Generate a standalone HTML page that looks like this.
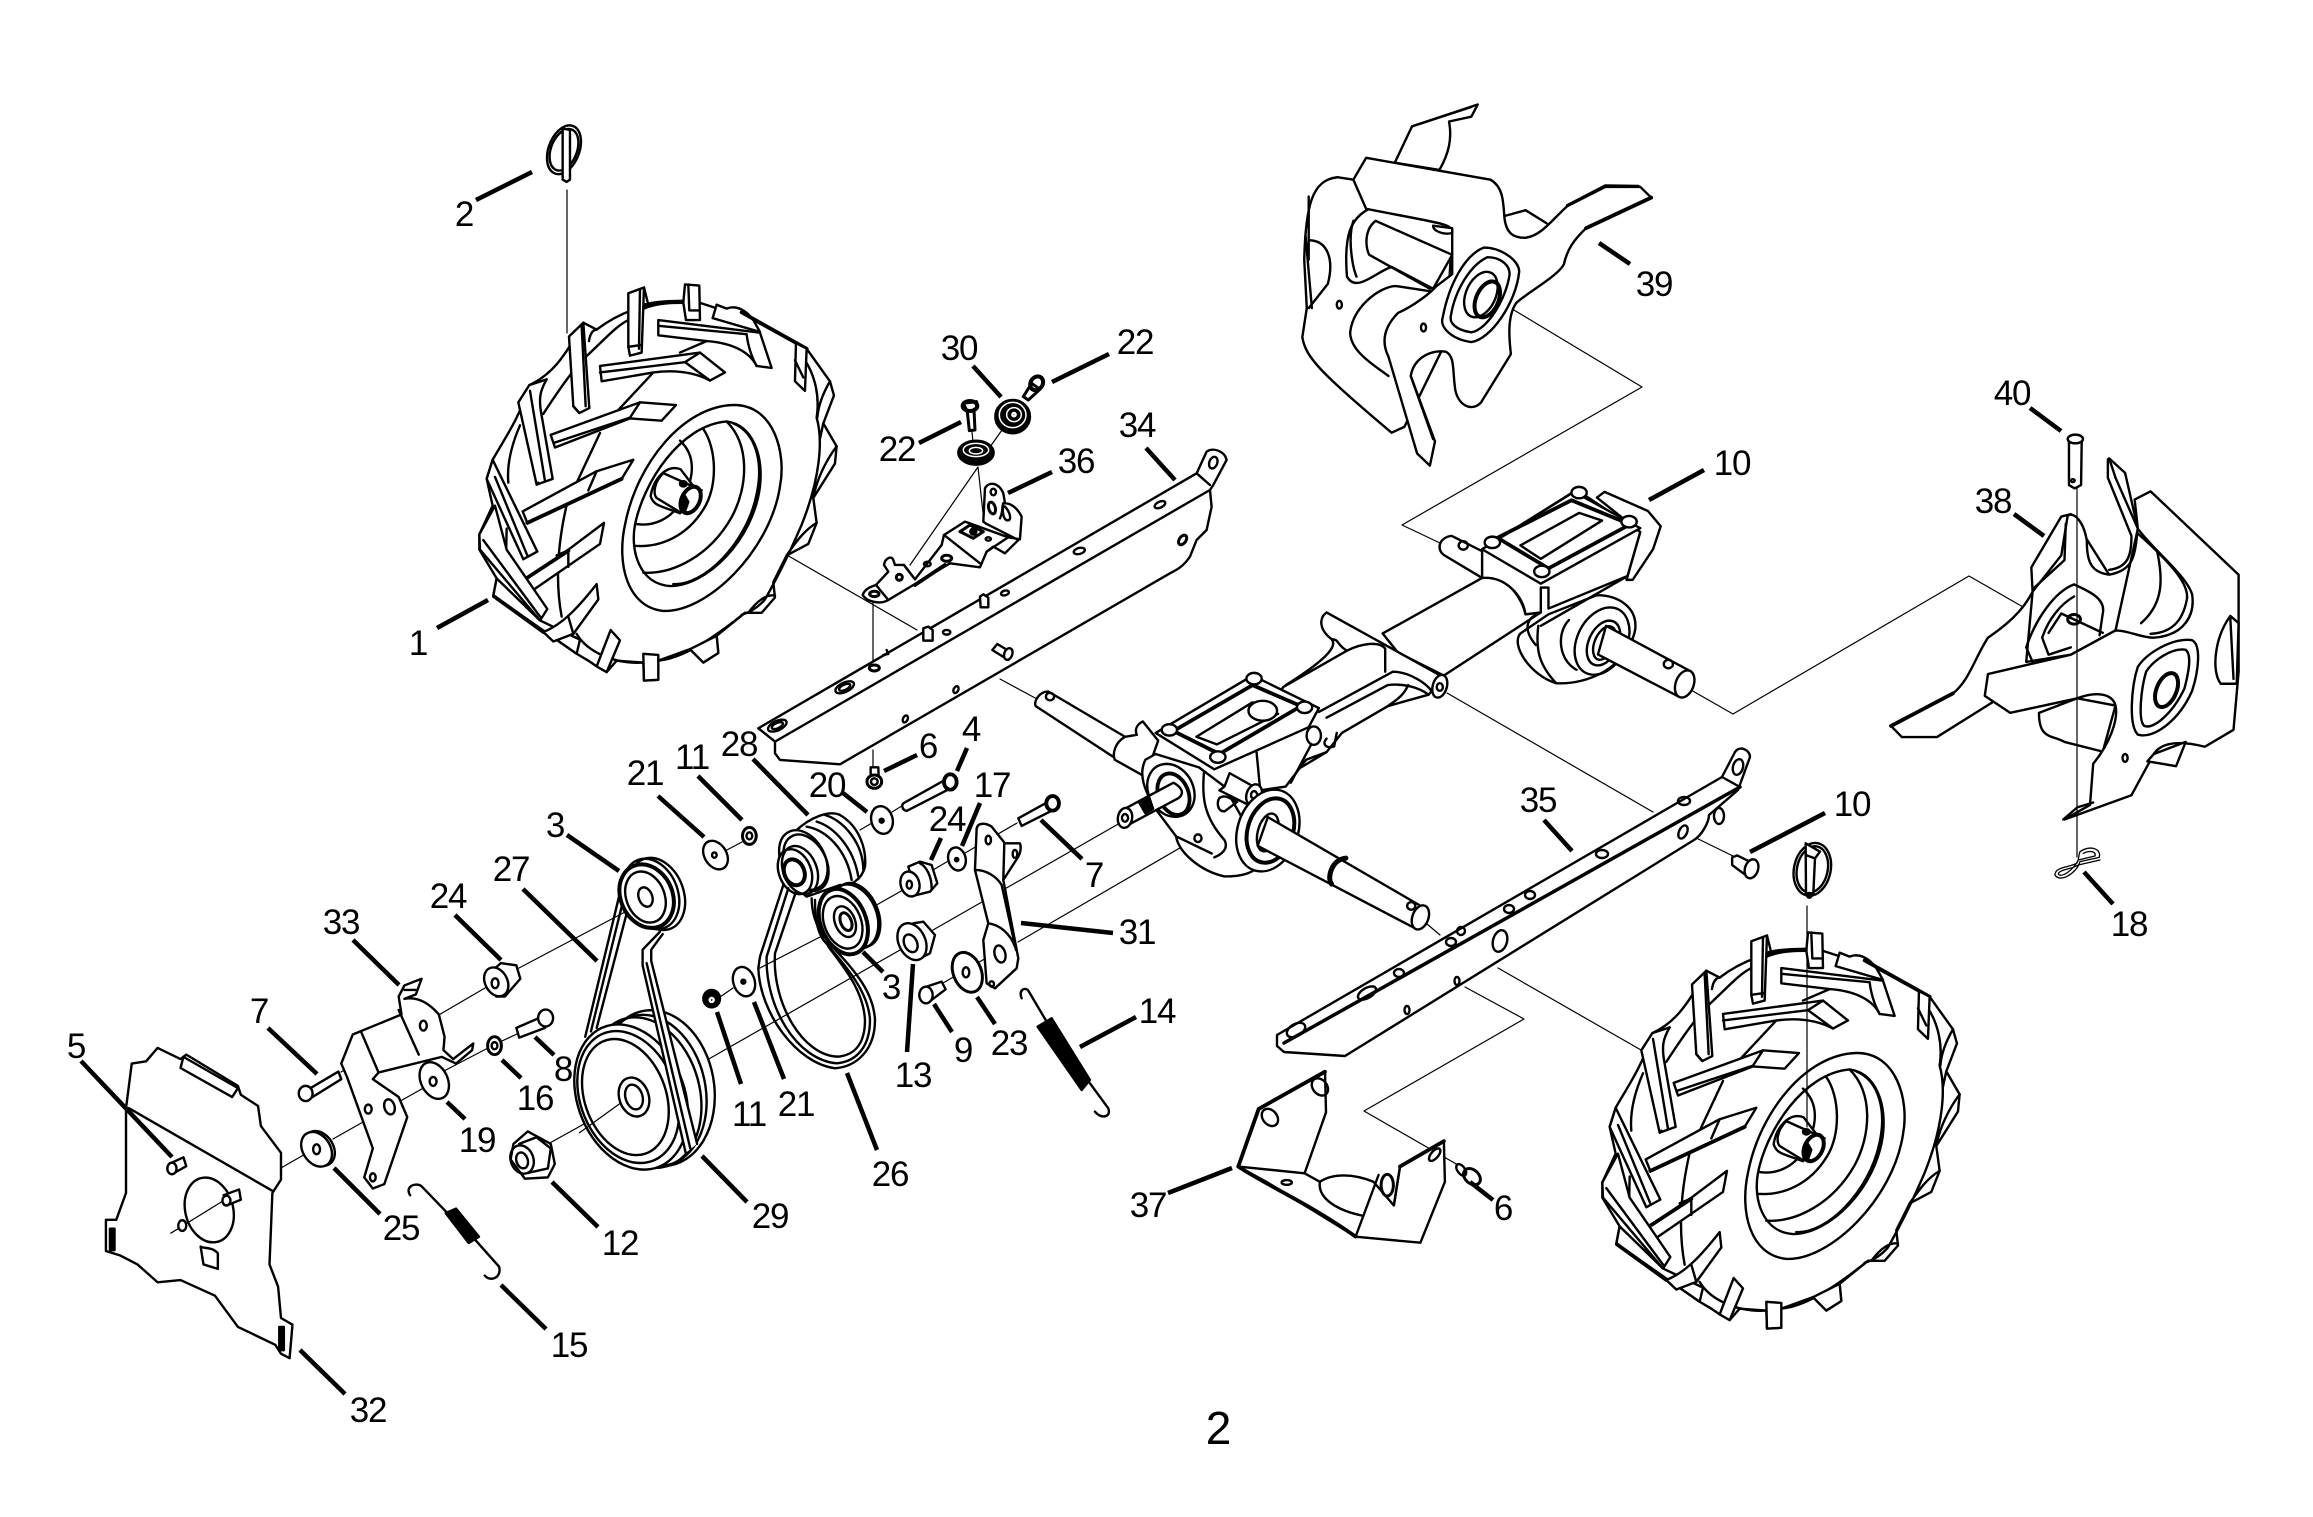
<!DOCTYPE html>
<html><head><meta charset="utf-8"><title>Parts diagram 2</title>
<style>
html,body{margin:0;padding:0;background:#fff}
svg{display:block}
svg *{vector-effect:non-scaling-stroke}
path,ellipse,circle,polygon,rect,line{fill:none;stroke:#000;stroke-width:2.4;stroke-linejoin:round;stroke-linecap:round}
.w{fill:#fff}
.k{fill:#000}
.b{stroke-width:3.8}
.pt{stroke-width:4.5;stroke-linecap:butt}
.hl{stroke-width:1.2}
text{font-family:"Liberation Sans",sans-serif;font-size:35px;text-anchor:middle;fill:#000;stroke:none;letter-spacing:-1.2px}
</style></head><body>
<svg xmlns="http://www.w3.org/2000/svg" width="2313" height="1517" viewBox="0 0 2313 1517">
<rect x="0" y="0" width="2313" height="1517" style="fill:#fff;stroke:none"/>
<defs>
<g id="wheel">
<path class="w" d="M158,940 C190,890 240,830 268,745 C330,720 370,680 430,582 L470,600 C530,560 620,525 730,525 L780,530 L940,575 L1100,650 L1170,735 L1182,772 L1150,845 L1190,905 L1185,950 L1120,1040 L1130,1105 L1105,1160 L1040,1190 L1000,1260 L1005,1300 L965,1340 L915,1340 L830,1400 L835,1445 L790,1470 L750,1435 L655,1465 L655,1515 L612,1517 L610,1470 L530,1465 L500,1495 L470,1480 L445,1465 L410,1447 L160,1295 L170,1250 L118,1175 L118,1135 L158,1060 L140,990 Z"/>
<path d="M447,630 C450,610 460,600 470,600 M445,665 C400,700 340,780 310,820 M205,1000 C200,950 215,900 240,850 M300,770 C300,755 310,740 320,730 M610,535 C650,525 700,525 735,525 M445,665 C500,620 530,590 565,575 M612,545 C650,530 700,530 735,530 M1095,680 C1125,720 1140,775 1130,830 C1150,890 1140,990 1085,1110 C1060,1160 1030,1220 975,1305 C950,1330 925,1340 905,1345 M1150,845 L1140,885 M1170,735 C1150,765 1135,800 1132,830 M1190,905 C1160,940 1130,990 1120,1040 M1130,1105 C1090,1125 1060,1165 1040,1190 M1005,1295 C980,1290 950,1310 925,1340 M365,1350 C350,1280 345,1180 385,1040 M480,870 L410,1000 M640,712 L535,810 M800,630 L720,660 M390,1175 L350,1190 M200,1120 L198,1200 M165,1070 C160,1120 170,1170 200,1200"/>
<path class="w" d="M387,618 L430,582 L448,805 L418,818 L400,800 Z"/><path d="M425,590 L437,800 M400,800 L416,816 M425,590 L430,582"/>
<path class="w" d="M565,505 L612,490 L605,660 L570,668 L565,645 Z"/><path d="M612,490 L625,535 M600,497 L597,650 M565,645 L605,640"/>
<path class="w" d="M735,482 L778,485 L780,575 L738,575 L730,530 Z"/><path d="M745,482 L748,550 L780,550"/>
<path class="w" d="M830,535 L940,575 L960,608 L995,700 L950,695 C930,660 880,635 800,630 L655,615 L655,575 L960,608"/><path d="M655,590 L920,612 C925,650 940,680 950,695"/>
<path class="w" d="M830,535 L818,570 L960,606 L940,575 C920,550 890,535 860,545 Z"/><path class="b" d="M905,555 L1100,650"/>
<path class="w" d="M1068,635 L1100,650 L1095,760 L1065,735 Z"/><path d="M1065,680 L1090,725"/>
<path class="w" d="M480,695 L780,660 L855,712 L810,733 C760,710 700,705 640,712 L485,735 Z"/><path d="M480,712 L735,685 L780,660 M735,685 L810,733"/>
<path class="w" d="M332,875 L600,790 L708,797 L665,838 L570,832 L345,908 Z"/><path d="M345,895 L570,830 L600,790"/>
<path class="w" d="M248,1075 L470,970 L580,940 L545,990 L262,1105 Z"/><path class="b" d="M262,1105 L545,990"/><path d="M470,970 L445,1020"/>
<path class="w" d="M268,745 L235,790 L290,1005 L338,990 L305,825 C295,780 300,760 320,730 Z"/><path d="M270,760 L315,995 M290,1005 L295,1000"/>
<path class="w" d="M240,1262 L385,1175 L492,1105 L480,1160 L272,1285 Z"/><path class="b" d="M250,1255 L385,1178"/><path d="M385,1178 L385,1220"/>
<path class="w" d="M158,940 L140,990 L250,1200 L292,1180 Z"/><path d="M165,985 L262,1190"/>
<path class="w" d="M118,1135 L120,1175 L300,1360 L322,1330 L200,1175 L165,1060 Z"/><path d="M130,1150 L300,1350"/>
<path class="w" d="M170,1250 L160,1295 L410,1447 L420,1410 L300,1360 Z"/><path class="b" d="M162,1297 L310,1390"/>
<path class="w" d="M310,1390 C370,1370 420,1320 470,1265 L475,1305 L400,1395 L340,1415 Z"/><path d="M385,1350 L400,1395 M410,1395 C440,1440 520,1475 610,1470 M655,1465 C720,1460 800,1420 915,1340"/>
<path class="w" d="M512,1385 L540,1412 L500,1495 L470,1480 Z M610,1447 L655,1450 L655,1515 L612,1517 Z M750,1435 L830,1400 L835,1445 L790,1470 Z"/>
<path class="w" d="M880,797 C1000,795 1040,920 1020,1010 C990,1180 800,1340 670,1335 C560,1325 530,1210 555,1110 C590,950 730,800 880,797 Z"/>
<path d="M860,840 C940,850 970,930 960,1010 C940,1150 800,1270 690,1270 C600,1265 570,1180 585,1110 C610,1000 720,850 860,840 Z M880,845 C950,870 970,950 950,1030 C920,1160 790,1270 700,1265 M790,860 C830,910 835,1010 790,1070 C740,1140 660,1170 585,1165 M860,840 C930,900 925,1010 875,1090 C810,1190 700,1240 610,1235 M720,890 C770,930 765,990 720,1055 C690,1095 640,1115 590,1108"/>
<path class="w" d="M722,965 C680,950 640,990 632,1035 C640,1060 660,1060 720,1080 L770,1020 Z"/>
<path class="w" d="M670,975 C640,1000 640,1030 650,1040 L722,1078 L785,1020 Z"/>
<ellipse class="w" cx="752" cy="1045" rx="26" ry="38" transform="rotate(35 752 1045)" style="stroke-width:4"/>
<ellipse cx="730" cy="1003" rx="10" ry="7" class="k"/>
<path class="k" d="M722,1045 L735,1035 L745,1050 L735,1075 Z"/>
</g>
</defs>

<path class="hl" d="M567,190V333 M688,498L917,630 M1000,679L1037,699 M873,603V667 M873,750V767 M978,467L910,565 M978,467L984,522 M1002,430L990,447 M972,432L973,442 M707,1060L900,950 M933,930L1120,823 M1018,942L1197,838 M943,983L1000,950 M933,870L950,860 M965,853L1017,823 M873,907L903,890 M760,968L820,937 M720,997L733,988 M723,852L742,842 M860,830L877,820 M892,812L905,804 M519,968L625,912 M341,1072L485,988 M281,1168L307,1153 M333,1139L427,1086 M442,1072L488,1048 M502,1041L519,1033 M171,1233L232,1195 M548,1144L620,1104 M1494,298L1642,387L1402,525L1440,543 M1691,690L1733,714L1969,576L2030,611 M1447,693L1653,812 M1498,968L1641,1050 M1684,832L1735,857 M1427,924L1440,935 M1465,987L1524,1019L1364,1111L1458,1165"/>

<g transform="translate(440,100) scale(.3333,.3827)">
<use href="#wheel"/>
<ellipse cx="372" cy="130" rx="45" ry="68" transform="rotate(28 372 130)"/>
<ellipse cx="372" cy="130" rx="38" ry="58" transform="rotate(28 372 130)"/>
<path class="w" d="M368,75 L390,78 L390,208 L380,214 L368,208 Z"/>
</g>

<g transform="translate(1123,648)"><g transform="translate(440,100) scale(.3333,.3827)"><use href="#wheel"/></g></g>
<path class="hl" d="M1807,906V1127"/>
<g transform="translate(1740,780) scale(.3333)">
<ellipse class="w" cx="217" cy="268" rx="55" ry="80" transform="rotate(12 217 268)"/>
<ellipse cx="217" cy="268" rx="46" ry="70" transform="rotate(12 217 268)"/>
<path class="w" d="M197,190 L240,215 L225,235 L220,340 L198,340 Z"/>
<path d="M197,225 L225,235"/>
<circle cx="208" cy="346" r="7"/>
<path d="M1020,215 C1050,195 1085,205 1078,232 L1020,245 C1010,280 960,310 945,285 C945,260 990,262 1010,250 C1018,240 1015,225 1020,215 Z M1030,220 C1050,210 1070,215 1065,228 L1015,240 C1000,270 965,295 955,282 C958,268 995,268 1015,255 L1080,240" style="stroke-width:1.3"/>
</g>

<g transform="translate(760,300) scale(.3333)">
<path class="w" d="M-5,1285 L1310,520 L1340,455 C1360,440 1395,455 1400,480 L1360,555 L1350,570 L1355,620 L1340,690 L1310,720 L1290,770 C1270,800 1250,810 1230,820 L240,1393 L60,1380 L45,1360 L45,1325 Z"/>
<path d="M45,1325 L1350,570 M1310,520 L1350,555 M380,1050 L385,1062 L370,1065"/>
<ellipse cx="1360" cy="488" rx="12" ry="18" transform="rotate(20 1360 488)"/>
<ellipse cx="1200" cy="614" rx="17" ry="9" transform="rotate(-25 1200 614)"/>
<ellipse cx="1268" cy="720" rx="10" ry="16" transform="rotate(35 1268 720)" style="stroke-width:3"/>
<ellipse cx="958" cy="753" rx="17" ry="9" transform="rotate(-15 958 753)"/>
<ellipse cx="735" cy="879" rx="12" ry="7" transform="rotate(-15 735 879)"/>
<ellipse cx="560" cy="997" rx="11" ry="7"/>
<ellipse cx="343" cy="1104" rx="15" ry="9" style="stroke-width:3"/>
<ellipse cx="254" cy="1162" rx="30" ry="14" transform="rotate(-25 254 1162)"/>
<ellipse cx="254" cy="1162" rx="18" ry="8" transform="rotate(-25 254 1162)"/>
<ellipse cx="52" cy="1277" rx="30" ry="14" transform="rotate(-25 52 1277)"/>
<ellipse cx="52" cy="1277" rx="18" ry="8" transform="rotate(-25 52 1277)"/>
<ellipse cx="588" cy="1169" rx="7" ry="11" transform="rotate(25 588 1169)"/>
<ellipse cx="436" cy="1257" rx="7" ry="11" transform="rotate(25 436 1257)"/>
<path class="w" d="M660,890 L670,883 L685,893 L685,922 L662,922 Z M490,985 L505,980 L518,990 L518,1022 L490,1022 Z M697,1050 L712,1032 L755,1058 L745,1080 Z"/>
<ellipse class="w" cx="745" cy="1062" rx="12" ry="18" transform="rotate(20 745 1062)"/>
<path class="w" d="M308,885 C315,865 335,860 348,855 L385,815 L372,795 C375,775 395,765 400,780 L405,795 L432,795 L465,838 L545,735 L552,705 L615,665 L745,712 L780,718 L785,650 C770,620 750,610 735,610 L730,580 C715,545 685,545 675,565 L670,665 L680,672 L775,720 L735,760 L700,740 L680,755 L660,802 L570,790 L460,855 L385,900 C360,915 320,905 308,885 Z"/>
<path class="b" d="M465,855 L555,795"/>
<path d="M348,855 L385,900 M432,795 L465,838 M552,705 L660,790 M680,755 L745,712 M720,655 C730,635 725,620 730,610 M730,610 C725,650 735,665 748,660 C755,650 745,630 735,620"/>
<ellipse cx="343" cy="882" rx="14" ry="8" style="stroke-width:3"/>
<ellipse cx="418" cy="832" rx="9" ry="9" style="stroke-width:3"/>
<ellipse cx="502" cy="792" rx="10" ry="7"/>
<ellipse cx="560" cy="775" rx="15" ry="9" style="stroke-width:3"/>
<ellipse cx="700" cy="576" rx="8" ry="10"/>
<ellipse cx="696" cy="624" rx="10" ry="18" transform="rotate(-15 696 624)" style="stroke-width:3"/>
<path d="M600,695 L630,675 L670,695 L640,715 Z" style="stroke-width:3"/>
<circle cx="640" cy="695" r="9" class="k"/>
<ellipse cx="685" cy="717" rx="8" ry="5"/>
<ellipse class="k" cx="758" cy="350" rx="52" ry="50"/>
<ellipse cx="758" cy="345" rx="40" ry="38" style="stroke:#fff;stroke-width:1.5"/>
<ellipse cx="762" cy="344" rx="22" ry="21" style="stroke:#fff;stroke-width:1.5"/>
<circle cx="762" cy="344" r="5" style="stroke:#fff"/>
<ellipse class="k" cx="648" cy="458" rx="53" ry="36"/>
<ellipse cx="648" cy="450" rx="38" ry="20" style="stroke:#fff;stroke-width:1.5"/>
<ellipse cx="648" cy="452" rx="20" ry="10" style="stroke:#fff;stroke-width:1.5"/>
<path class="w" d="M610,310 L650,305 L650,325 L642,328 L645,390 L628,392 L622,335 Z" style="stroke-width:3"/>
<ellipse cx="630" cy="318" rx="22" ry="15" style="stroke-width:4"/>
<path class="w" d="M790,290 L815,250 L840,268 L805,300 Z" style="stroke-width:3"/>
<ellipse cx="830" cy="250" rx="18" ry="22" transform="rotate(35 830 250)" style="stroke-width:4"/>
<path class="w" d="M332,1402 L355,1402 L356,1430 L332,1430 Z"/>
<ellipse class="w" cx="343" cy="1445" rx="22" ry="20" style="stroke-width:3"/>
<circle cx="343" cy="1445" r="10"/>
<path class="w" d="M430,1510 L555,1440 L572,1465 L440,1533 C425,1530 425,1515 430,1510 Z"/>
<ellipse class="w b" cx="571" cy="1446" rx="19" ry="23"/>
</g>

<g transform="translate(1000,400) scale(.5102,.3827)">
<path class="w" d="M1020,610 C1000,640 1040,720 1090,740 C1150,745 1230,700 1245,600 C1250,540 1210,510 1170,510 L1075,560 Z"/>
<path d="M1055,590 C1050,650 1055,690 1090,740 M1115,575 C1090,610 1095,680 1130,705"/>
<ellipse cx="1180" cy="630" rx="50" ry="90" transform="rotate(15 1180 630)"/>
<ellipse cx="1183" cy="635" rx="30" ry="60" transform="rotate(15 1183 635)"/>
<ellipse cx="1185" cy="635" rx="20" ry="45" transform="rotate(15 1185 635)"/>
<path class="w" d="M1188,590 L1355,710 L1330,775 L1172,665 Z"/>
<ellipse class="w" cx="1342" cy="742" rx="18" ry="36" transform="rotate(12 1342 742)"/>
<ellipse cx="1310" cy="690" rx="9" ry="11"/>
<path class="w" d="M945,465 L870,405 C855,390 860,360 885,355 L945,395 Z"/>
<ellipse cx="908" cy="380" rx="9" ry="11"/>
<path class="w" d="M750,610 L945,465 C975,445 1020,500 1030,560 L1060,555 L870,720 L780,660 Z"/>
<path class="w" d="M945,390 L945,465 C990,460 1025,510 1030,560 L1060,555 L1060,490 L1075,490 L1075,545 L1230,460 L1255,345 L1130,235 Z"/>
<path class="w" d="M1185,240 L1270,290 L1295,330 L1280,390 L1240,470 L1228,470 L1255,345 L1170,255 Z"/>
<path d="M1050,640 C1025,600 1030,570 1060,555 M1060,590 L1230,460"/>
<path class="w" d="M945,390 L1125,240 L1255,335 L1060,480 Z"/>
<path class="b" d="M975,360 L1120,262 L1235,325 L1075,440 Z"/>
<path d="M1020,380 L1135,295 L1180,315 L1060,415 Z"/>
<circle class="w" cx="965" cy="372" r="15"/>
<circle class="w" cx="1135" cy="242" r="15"/>
<circle class="w" cx="1233" cy="318" r="15"/>
<circle class="w" cx="1062" cy="448" r="15"/>
<path class="w" d="M555,750 L680,655 C660,640 665,625 650,625 C625,600 625,570 640,555 L870,725 L840,770 L760,800 L670,870 L640,920 L600,940 L560,1010 L510,1020 L500,880 Z"/>
<path d="M650,625 C660,640 650,670 560,745 M680,655 C710,635 745,630 755,650 L755,710 M625,815 L770,710 C800,710 840,740 850,770 M640,830 L760,745 C790,740 820,750 840,770 M760,800 C775,785 790,775 800,745"/>
<ellipse class="w" cx="862" cy="748" rx="14" ry="30" transform="rotate(10 862 748)"/>
<ellipse cx="862" cy="750" rx="6" ry="10"/>
<ellipse class="w" cx="615" cy="877" rx="14" ry="24"/>
<path d="M640,885 C630,900 640,912 655,905 L660,870 M570,1000 L610,900 M590,960 L640,920"/>
<path class="w" d="M95,762 L245,880 L225,935 L70,800 C65,785 80,760 95,762 Z"/>
<ellipse cx="98" cy="775" rx="8" ry="10"/>
<path class="w" d="M245,880 C225,895 220,925 225,940 L285,985 L310,890 L280,840 C265,850 265,865 268,875 Z"/>
<path class="w" d="M285,940 C270,980 285,1020 300,1060 L345,1140 C350,1180 390,1230 440,1245 C470,1245 500,1240 520,1200 L440,1010 L390,960 L305,925 Z"/>
<ellipse cx="335" cy="1020" rx="45" ry="70" transform="rotate(-12 335 1020)"/>
<ellipse class="b" cx="340" cy="1030" rx="30" ry="55" transform="rotate(-12 340 1030)"/>
<path d="M400,970 C395,1040 400,1090 440,1150 C450,1175 430,1190 420,1195 M345,1140 L415,1185"/>
<ellipse cx="388" cy="1145" rx="7" ry="10"/>
<path class="w" d="M235,1075 L340,1000 C360,1015 360,1030 350,1040 L245,1115 Z"/>
<path class="k" d="M272,1050 L292,1036 L300,1068 L285,1080 Z"/>
<ellipse class="w" cx="245" cy="1092" rx="14" ry="26" transform="rotate(5 245 1092)"/>
<ellipse cx="245" cy="1092" rx="6" ry="10"/>
<path class="w" d="M440,1010 L450,975 L510,1020 L490,1060 L430,1020 Z"/>
<ellipse class="w" cx="498" cy="1032" rx="15" ry="28" transform="rotate(10 498 1032)"/>
<ellipse cx="498" cy="1032" rx="6" ry="10"/>
<path d="M430,1040 C440,1030 450,1040 465,1050 L440,1075 C425,1075 425,1050 430,1040 Z"/>
<ellipse class="w" cx="525" cy="1125" rx="60" ry="108" transform="rotate(10 525 1125)"/>
<ellipse cx="530" cy="1125" rx="45" ry="85" transform="rotate(10 530 1125)" style="stroke-width:4"/>
<ellipse class="w" cx="525" cy="1130" rx="20" ry="50" transform="rotate(10 525 1130)"/>
<path class="w" d="M525,1090 L835,1330 L810,1378 L505,1165 Z"/>
<ellipse class="w" cx="824" cy="1352" rx="16" ry="32" transform="rotate(12 824 1352)"/>
<ellipse cx="806" cy="1322" rx="8" ry="10"/>
<path d="M678,1197 C650,1200 640,1250 650,1265" style="stroke-width:5"/>
<path class="w" d="M305,870 L495,720 L625,805 L605,855 L420,965 Z"/>
<path class="b" d="M340,865 L495,745 L590,800 L430,925 Z"/>
<path d="M385,880 L495,790 L545,820 L425,900 Z"/>
<ellipse class="w" cx="515" cy="812" rx="28" ry="26"/>
<circle class="w" cx="332" cy="862" r="15"/>
<circle class="w" cx="498" cy="728" r="15"/>
<circle class="w" cx="597" cy="803" r="15"/>
<circle class="w" cx="427" cy="933" r="15"/>
<path class="w" d="M1435,1195 L1445,1190 L1475,1210 L1465,1245 L1435,1215 Z"/>
<ellipse class="w" cx="1473" cy="1225" rx="13" ry="25" transform="rotate(10 1473 1225)"/>
</g>

<path class="w" d="M1277,1035 L1722,777 L1735,752 C1740,745 1750,750 1750,757 L1738,790 L1709,815 C1709,822 1702,835 1694,840 L1345,1056 L1284,1052 L1277,1046 Z"/>
<path d="M1722,777 L1740,787"/>
<path d="M1284,1043 L1740,787" style="stroke-width:3.5"/>
<ellipse cx="1738" cy="767" rx="5" ry="8" transform="rotate(15 1738 767)"/>
<ellipse cx="1719" cy="816" rx="5" ry="8"/>
<path d="M1678,801a6,4 0 1,0 12,0a6,4 0 1,0 -12,0 M1596,854a6,4 0 1,0 12,0a6,4 0 1,0 -12,0 M1525,895a5,4 0 1,0 10,0a5,4 0 1,0 -10,0 M1504,909a5,4 0 1,0 10,0a5,4 0 1,0 -10,0 M1457,931a4,4 0 1,0 8,0a4,4 0 1,0 -8,0 M1446,942a5,4 0 1,0 10,0a5,4 0 1,0 -10,0 M1394,973a5,4 0 1,0 10,0a5,4 0 1,0 -10,0 M1454.5,981a2.5,4 0 1,0 5,0a2.5,4 0 1,0 -5,0 M1404.5,1010a2.5,4 0 1,0 5,0a2.5,4 0 1,0 -5,0"/>
<ellipse cx="1683" cy="832" rx="4" ry="7" transform="rotate(25 1683 832)"/>
<ellipse cx="1367" cy="993" rx="10" ry="5" transform="rotate(-30 1367 993)"/>
<ellipse cx="1296" cy="1030" rx="10" ry="6" transform="rotate(-30 1296 1030)"/>
<ellipse class="w" cx="1500" cy="941" rx="7" ry="11" transform="rotate(15 1500 941)"/>

<g transform="translate(1200,860) scale(.5102,.3387)">
<path class="w" d="M245,625 L115,735 L75,905 L130,950 L305,1112 L432,1130 L480,950 L478,830 L392,905 L380,1020 L340,950 C300,925 260,925 235,950 L205,925 L247,745 Z"/>
<path class="b" d="M245,625 L115,735 L75,905 M75,905 C130,960 220,1020 305,1112 M478,830 L392,905"/>
<path d="M75,905 L205,925 M235,950 C230,1000 270,1035 318,1050 M350,930 L305,1112 M392,905 L380,1020"/>
<ellipse cx="137" cy="760" rx="15" ry="26" transform="rotate(-15 137 760)"/>
<ellipse cx="235" cy="670" rx="15" ry="26" transform="rotate(-15 235 670)"/>
<ellipse cx="367" cy="960" rx="12" ry="32" style="stroke-width:3"/>
<ellipse cx="460" cy="870" rx="8" ry="20" transform="rotate(25 460 870)"/>
<ellipse cx="170" cy="952" rx="10" ry="7"/>
<ellipse cx="533" cy="935" rx="15" ry="25" transform="rotate(-20 533 935)" style="stroke-width:3"/>
<ellipse cx="512" cy="915" rx="8" ry="18" transform="rotate(-20 512 915)"/>
</g>

<g transform="translate(1280,90) scale(.6378,.4847)">
<path class="w" d="M180,150 L207,75 L310,30 L300,55 L265,65 C270,100 265,130 250,165 Z"/>
<path d="M207,75 L300,35"/>
<path class="w" d="M115,185 L90,180 C50,185 40,240 38,350 L42,450 L35,510 C40,550 60,580 175,707 L195,695 L260,520 L270,290 Z"/>
<path d="M45,310 C75,310 85,350 75,400 L45,450 M45,220 L45,350"/>
<path class="w" d="M140,245 C110,265 100,300 105,385 C120,420 150,375 175,365 L240,410 L270,340 L270,290 C265,275 250,275 135,245 Z"/>
<path d="M150,270 C130,290 135,330 140,340 L235,410 M150,270 L270,340 M115,270 C105,310 115,370 120,385 M110,500 C115,440 165,400 185,405 L235,415 M110,500 C110,540 150,570 170,590"/>
<path class="w" d="M135,140 L330,185 C350,200 350,230 352,265 C355,295 365,305 385,305 C410,300 425,270 450,240 L510,200 L565,200 L582,222 L480,285 C460,310 450,330 445,360 C435,385 385,420 370,440 C355,470 360,520 362,545 L315,645 C300,665 280,650 275,620 C270,580 275,550 260,540 C240,535 210,550 205,590 L243,725 L235,775 L215,750 L170,550 C155,510 170,480 185,460 C210,445 235,420 245,405 L270,380 L270,290 C265,275 250,275 135,245 L115,185 Z"/>
<path d="M450,238 L510,197 L562,198 M352,260 L385,248 L418,275 M40,300 L50,450 M205,590 L240,720"/>
<path class="b" d="M480,285 L582,222"/>
<path d="M320,325 C345,325 375,350 375,375 C370,440 330,515 300,520 C270,515 250,490 255,470 C265,400 290,340 320,325 Z M325,345 C345,345 360,360 360,380 C355,430 325,495 300,500 C275,495 265,480 268,465 C275,410 300,360 325,345 Z"/>
<ellipse cx="315" cy="422" rx="24" ry="48" transform="rotate(15 315 422)"/>
<ellipse cx="325" cy="432" rx="18" ry="38" transform="rotate(15 325 432)" style="stroke-width:4"/>
<ellipse cx="93" cy="443" rx="4" ry="8"/>
<ellipse cx="225" cy="490" rx="4" ry="8"/>
<path class="w" d="M240,280 C240,290 255,300 270,295 L270,285 Z"/>
<path class="w" d="M1240,875 L1225,880 L1178,985 L1180,1035 C1170,1060 1155,1090 1110,1130 C1090,1170 1080,1220 1055,1245 L958,1312 L975,1335 L1030,1335 L1115,1265 L1290,1100 L1300,1000 Z"/>
<path class="b" d="M958,1312 L1055,1245"/>
<path class="w" d="M1300,760 L1325,790 L1345,905 C1340,960 1340,990 1300,1000 C1270,995 1265,970 1265,930 C1260,890 1245,870 1235,878 L1225,960 L1180,1035 L1170,1180 L1240,1165 L1310,1115 L1345,905 L1310,800 Z"/>
<path d="M1298,762 L1298,800 L1335,920 C1335,960 1330,985 1300,990 M1180,1030 L1230,970 L1232,895 M1245,1020 C1270,1035 1295,1050 1290,1080 L1285,1125 M1245,1020 C1215,1035 1185,1090 1170,1150 L1180,1180 M1245,1045 C1225,1060 1205,1090 1195,1130 L1205,1165 L1240,1150 M1205,1120 L1225,1080 L1290,1120"/>
<ellipse cx="1245" cy="1092" rx="10" ry="10" style="stroke-width:3"/>
<path class="w" d="M1190,1285 C1190,1340 1210,1330 1230,1345 L1290,1365 L1310,1270 L1250,1255 Z"/>
<path class="w" d="M1365,828 L1503,1000 L1503,1200 L1495,1320 L1450,1355 C1420,1345 1385,1340 1370,1370 L1335,1455 L1230,1505 L1270,1475 L1275,1390 C1300,1350 1315,1300 1310,1270 C1305,1245 1280,1240 1250,1255 L1145,1285 L1105,1250 L1110,1205 L1240,1165 L1310,1115 C1330,1115 1350,1130 1370,1130 C1420,1125 1435,1080 1430,1040 C1420,1000 1370,950 1345,905 L1340,845 Z"/>
<path d="M1345,915 C1400,980 1425,1020 1422,1050 C1415,1100 1395,1120 1365,1122 M1375,950 C1385,1010 1385,1060 1350,1100 M1228,1505 L1250,1480 L1275,1470"/>
<path class="w" d="M1405,1395 L1420,1345 L1370,1370 L1360,1385 Z"/>
<path d="M1430,1135 C1445,1145 1440,1200 1430,1240 C1410,1300 1370,1340 1345,1330 C1330,1310 1335,1230 1345,1190 C1360,1160 1400,1130 1430,1135 Z M1420,1155 C1430,1165 1425,1200 1418,1235 C1400,1285 1370,1320 1355,1312 C1345,1300 1350,1235 1358,1200 C1370,1175 1400,1150 1420,1155 Z"/>
<ellipse cx="1390" cy="1238" rx="16" ry="36" transform="rotate(15 1390 1238)" style="stroke-width:4"/>
<path class="w" d="M1490,1085 C1465,1130 1460,1200 1475,1225 L1500,1225 L1503,1100 Z"/>
<path d="M1490,1090 L1495,1215"/>
<ellipse cx="1325" cy="1378" rx="4" ry="8"/>
<path class="w" d="M1237,722 L1257,722 L1256,815 L1246,822 L1237,815 Z"/>
<ellipse class="w" cx="1247" cy="720" rx="12" ry="9"/>
<circle cx="1243" cy="806" r="3"/>
</g>
<path class="hl" d="M2077,487V857"/>

<g transform="translate(60,760) scale(.574,.4464)">
<path class="w" d="M170,645 L210,670 L220,660 L310,730 L315,750 L345,775 L350,820 L385,880 L385,940 L370,970 L365,1130 L380,1180 L385,1250 L405,1265 L400,1340 L385,1330 L375,1310 L310,1270 L270,1200 L210,1165 L170,1170 L135,1130 L105,1110 L80,1100 L80,1030 L98,1030 L115,970 L115,780 L125,680 L150,675 Z"/>
<path d="M120,780 L370,965"/>
<path class="w" d="M215,665 L310,735 L300,755 L210,690 Z"/>
<path class="k" d="M87,1050 L95,1050 L95,1098 L87,1098 Z M382,1270 L390,1270 L390,1322 L382,1322 Z"/>
<ellipse cx="260" cy="1008" rx="42" ry="73" transform="rotate(-8 260 1008)"/>
<path class="hl" d="M193,1060 L300,975"/>
<ellipse class="w" cx="213" cy="1043" rx="7" ry="12"/>
<path class="w" d="M190,905 L215,890 L220,910 L195,928 Z"/>
<ellipse class="w" cx="195" cy="915" rx="8" ry="13"/>
<path class="w" d="M285,975 L312,962 L315,985 L292,997 Z"/>
<ellipse class="w" cx="290" cy="987" rx="7" ry="11"/>
<path d="M245,1090 L250,1130 L275,1140 L275,1105 C265,1090 250,1095 245,1090"/>
<path class="w" d="M590,530 L600,505 L630,490 L620,525 L600,535 C620,530 640,540 660,570 L670,620 L668,650 L685,670 L720,635 L718,650 L690,680 L665,665 L555,700 L545,715 L590,755 L605,800 L565,950 L545,960 L530,935 L545,870 L500,710 L490,680 L510,615 L595,570 Z"/>
<path d="M525,610 L555,700 M590,560 L625,660 M600,515 L620,515"/>
<ellipse cx="633" cy="595" rx="6" ry="11"/>
<ellipse cx="537" cy="782" rx="6" ry="10"/>
<ellipse cx="574" cy="777" rx="9" ry="17" transform="rotate(-10 574 777)"/>
<ellipse cx="545" cy="935" rx="5" ry="9"/>
<ellipse class="w" cx="452" cy="870" rx="25" ry="40" transform="rotate(-18 452 870)"/>
<ellipse class="w" cx="447" cy="872" rx="25" ry="40" transform="rotate(-18 447 872)"/>
<ellipse cx="447" cy="872" rx="6" ry="11"/>
<path class="w" d="M430,740 L485,698 L490,715 L440,755 Z"/>
<ellipse class="w" cx="428" cy="747" rx="12" ry="17"/>
<ellipse class="w" cx="652" cy="718" rx="24" ry="42" transform="rotate(-15 652 718)"/>
<ellipse cx="650" cy="720" rx="6" ry="10"/>
<ellipse class="w" cx="757" cy="640" rx="12" ry="20" style="stroke-width:3"/>
<ellipse cx="757" cy="640" rx="5" ry="8"/>
<path class="w" d="M795,600 L840,575 L845,600 L800,622 Z"/>
<ellipse class="w" cx="846" cy="578" rx="13" ry="19"/>
<path class="w" d="M755,470 L768,455 L795,460 L802,490 L775,530 L760,530 Z"/>
<ellipse class="w" cx="760" cy="497" rx="20" ry="33" transform="rotate(-15 760 497)"/>
<ellipse cx="758" cy="500" rx="6" ry="11"/>
<path class="w" d="M815,832 L855,860 L862,905 L850,935 L810,938 L785,895 L790,860 Z"/>
<path d="M800,860 L830,845 L855,870 L850,915 L815,925"/>
<ellipse cx="805" cy="895" rx="20" ry="32" transform="rotate(-10 805 895)"/>
<ellipse cx="805" cy="897" rx="10" ry="18" transform="rotate(-10 805 897)"/>
<ellipse class="w" cx="1040" cy="735" rx="100" ry="175" transform="rotate(-5 1040 735)"/>
<ellipse cx="1030" cy="740" rx="95" ry="170" transform="rotate(-7 1030 740)"/>
<ellipse cx="1020" cy="745" rx="95" ry="170" transform="rotate(-9 1020 745)"/>
<ellipse class="w" cx="995" cy="755" rx="95" ry="165" transform="rotate(-12 995 755)"/>
<ellipse cx="990" cy="755" rx="85" ry="150" transform="rotate(-12 990 755)"/>
<ellipse cx="985" cy="755" rx="72" ry="132" transform="rotate(-12 985 755)"/>
<ellipse cx="1000" cy="755" rx="26" ry="44" transform="rotate(-10 1000 755)"/>
<ellipse cx="1000" cy="755" rx="15" ry="28" transform="rotate(-10 1000 755)"/>
<path class="hl" d="M905,835 L975,770"/>
<path d="M915,620 L975,300 M925,608 L982,310 M935,600 L990,330"/>
<polygon points="1015,460 1032,450 1110,860 1090,880" style="fill:#fff;stroke:none"/>
<path d="M1045,385 L1015,425 L1015,460 L1090,880 M1050,390 L1030,425 L1030,450 L1110,860 M1022,455 L1098,870"/>
<ellipse class="w" cx="1040" cy="300" rx="47" ry="82" transform="rotate(-12 1040 300)"/>
<ellipse cx="1030" cy="300" rx="47" ry="80" transform="rotate(-12 1030 300)"/>
<ellipse class="w" cx="1022" cy="305" rx="46" ry="72" transform="rotate(-12 1022 305)" style="stroke-width:4"/>
<ellipse cx="1020" cy="307" rx="34" ry="58" transform="rotate(-12 1020 307)"/>
<ellipse cx="1020" cy="307" rx="12" ry="22" transform="rotate(-12 1020 307)"/>
<ellipse class="w" cx="1142" cy="213" rx="20" ry="33" transform="rotate(-18 1142 213)"/>
<ellipse cx="1140" cy="213" rx="4" ry="6"/>
<ellipse class="w" cx="1201" cy="170" rx="12" ry="19" style="stroke-width:3"/>
<ellipse cx="1201" cy="170" rx="5" ry="8"/>
<path d="M610,975 C600,955 620,945 630,955 L675,1015 M720,1070 L765,1135 C770,1160 750,1170 740,1155"/>
<path class="k" d="M672,1015 L690,1005 L730,1068 L712,1082 Z"/>
</g>

<g transform="translate(700,720) scale(.3333)">
<path class="w" d="M955,295 L1045,245 L1060,270 L965,318 Z"/>
<ellipse class="w b" cx="1058" cy="250" rx="19" ry="22"/>
<ellipse class="w" cx="546" cy="300" rx="32" ry="42" transform="rotate(-15 546 300)"/>
<circle cx="545" cy="302" r="6" class="k"/>
<ellipse class="w" cx="771" cy="417" rx="26" ry="35" transform="rotate(-15 771 417)"/>
<circle cx="770" cy="419" r="5" class="k"/>
<path class="w" d="M625,440 L660,425 L695,435 L712,490 L690,515 L650,525 Z"/>
<path d="M660,430 C680,440 695,470 695,505"/>
<ellipse class="w" cx="630" cy="492" rx="28" ry="38" transform="rotate(-15 630 492)"/>
<ellipse cx="628" cy="494" rx="8" ry="12"/>
<path class="w" d="M285,335 C330,290 390,270 420,285 C480,320 500,390 495,440 C485,480 450,500 420,495 L320,530 L260,480 Z"/>
<path d="M320,320 C380,330 440,390 455,480 M350,305 C400,320 460,380 475,470 M375,285 C430,300 490,370 490,450"/>
<ellipse class="w" cx="310" cy="420" rx="65" ry="95" transform="rotate(-28 310 420)"/>
<ellipse cx="318" cy="428" rx="60" ry="90" transform="rotate(-28 318 428)"/>
<ellipse class="w" cx="285" cy="455" rx="48" ry="70" transform="rotate(-22 285 455)"/>
<ellipse cx="283" cy="457" rx="30" ry="40" transform="rotate(-22 283 457)" style="stroke-width:4"/>
<ellipse cx="300" cy="450" rx="50" ry="75" transform="rotate(-22 300 450)"/>
<ellipse class="w" cx="470" cy="585" rx="65" ry="100" transform="rotate(-22 470 585)"/>
<ellipse cx="460" cy="590" rx="70" ry="100" transform="rotate(-22 460 590)"/>
<ellipse class="w" cx="430" cy="605" rx="68" ry="102" transform="rotate(-22 430 605)" style="stroke-width:4"/>
<ellipse cx="428" cy="607" rx="55" ry="82" transform="rotate(-22 428 607)"/>
<ellipse cx="435" cy="605" rx="30" ry="48" transform="rotate(-22 435 605)"/>
<ellipse cx="438" cy="605" rx="16" ry="28" transform="rotate(-22 438 605)" style="stroke-width:3"/>
<path d="M250,495 L180,710 L175,745 C180,880 290,1030 405,1045 C470,1040 525,990 525,900 C520,800 440,730 380,660 C345,620 335,570 335,535 M265,505 L200,710 C195,860 290,1020 410,1030 C470,1025 510,980 510,900 C505,810 430,730 370,660 C350,630 345,590 345,540 M288,515 L225,700 C215,850 310,1010 415,1010 C465,1005 495,970 495,900 C490,810 430,740 385,680"/>
<path class="w" d="M640,610 L670,605 L705,645 L690,700 L650,720 Z"/>
<ellipse class="w" cx="636" cy="665" rx="40" ry="58" transform="rotate(-25 636 665)"/>
<ellipse cx="632" cy="670" rx="19" ry="28" transform="rotate(-25 632 670)"/>
<ellipse class="w" cx="132" cy="785" rx="32" ry="45" transform="rotate(-18 132 785)"/>
<circle cx="130" cy="785" r="6" class="k"/>
<ellipse class="k" cx="35" cy="836" rx="25" ry="26"/>
<circle cx="35" cy="840" r="6" style="stroke:#fff"/>
<path class="w" d="M680,800 L725,785 L737,808 L695,840 Z"/>
<ellipse class="w" cx="678" cy="825" rx="20" ry="25"/>
<ellipse class="w" cx="802" cy="757" rx="42" ry="62" transform="rotate(-22 802 757)" style="stroke-width:3"/>
<ellipse cx="798" cy="757" rx="10" ry="15"/>
<path class="w" d="M830,325 C835,305 860,310 875,320 L915,370 L960,370 C965,385 960,400 955,410 L910,480 L955,715 L950,745 L885,805 L860,790 L850,660 L865,610 L825,450 Z"/>
<path d="M825,450 C860,450 890,470 905,495 M865,610 C900,615 930,640 945,680 M913,370 L910,480 M905,495 L948,690"/>
<ellipse cx="865" cy="360" rx="8" ry="13"/>
<ellipse cx="945" cy="402" rx="7" ry="12"/>
<ellipse cx="900" cy="702" rx="16" ry="26" transform="rotate(-15 900 702)"/>
<ellipse cx="875" cy="792" rx="7" ry="8"/>
<path d="M965,835 C955,810 975,800 985,812 L1040,905 M1170,1090 L1225,1165 C1235,1190 1205,1200 1185,1175"/>
<path class="k" d="M1013,920 L1055,895 L1170,1080 L1145,1110 Z"/>
</g>

<path class="pt" d="M476,200L532,172 M437,628L488,600 M973,366L1001,397 M1052,382L1109,354 M919,443L961,422 M1146,448L1175,480 M1008,493L1052,472 M884,771L917,755 M957,771L967,748 M843,793L867,812 M753,759L808,815 M980,803L962,846 M941,838L931,860 M1041,820L1082,859 M1021,923L1113,933 M863,952L883,972 M1080,1047L1136,1017 M913,964L907,1052 M934,1004L952,1032 M977,997L995,1024 M717,1012L741,1084 M754,1002L784,1079 M847,1073L877,1150 M702,1156L747,1202 M1168,1193L1232,1168 M658,796L704,837 M698,776L742,820 M567,835L619,871 M523,889L597,961 M455,915L501,960 M353,940L399,985 M268,1028L317,1074 M81,1061L172,1157 M535,1037L554,1055 M502,1060L521,1078 M447,1102L465,1119 M334,1168L380,1214 M552,1182L598,1227 M501,1285L546,1329 M300,1350L345,1394 M1599,243L1630,264 M1649,500L1704,470 M2030,408L2061,431 M2014,514L2044,536 M1544,820L1572,851 M1750,852L1825,813 M2084,872L2113,904 M1470,1182L1493,1200"/>

<text x="464" y="226">2</text><text x="418" y="655">1</text><text x="959" y="360">30</text><text x="1135" y="354">22</text><text x="897" y="461">22</text><text x="1137" y="437">34</text><text x="1076" y="473">36</text><text x="928" y="758">6</text><text x="971" y="741">4</text><text x="827" y="797">20</text><text x="739" y="756">28</text><text x="992" y="797">17</text><text x="947" y="831">24</text><text x="1094" y="887">7</text><text x="1137" y="944">31</text><text x="891" y="999">3</text><text x="1157" y="1023">14</text><text x="913" y="1087">13</text><text x="963" y="1062">9</text><text x="1009" y="1055">23</text><text x="749" y="1126">11</text><text x="796" y="1116">21</text><text x="890" y="1186">26</text><text x="770" y="1228">29</text><text x="1148" y="1217">37</text><text x="645" y="785">21</text><text x="692" y="769">11</text><text x="555" y="837">3</text><text x="511" y="881">27</text><text x="448" y="908">24</text><text x="341" y="934">33</text><text x="259" y="1023">7</text><text x="76" y="1058">5</text><text x="563" y="1081">8</text><text x="535" y="1110">16</text><text x="477" y="1152">19</text><text x="401" y="1240">25</text><text x="620" y="1255">12</text><text x="569" y="1357">15</text><text x="368" y="1422">32</text><text x="1654" y="296">39</text><text x="1732" y="475">10</text><text x="2012" y="405">40</text><text x="1993" y="513">38</text><text x="1538" y="812">35</text><text x="1852" y="816">10</text><text x="2129" y="936">18</text><text x="1503" y="1220">6</text>
<text x="1218" y="1444" style="font-size:46px">2</text>
</svg>
</body></html>
